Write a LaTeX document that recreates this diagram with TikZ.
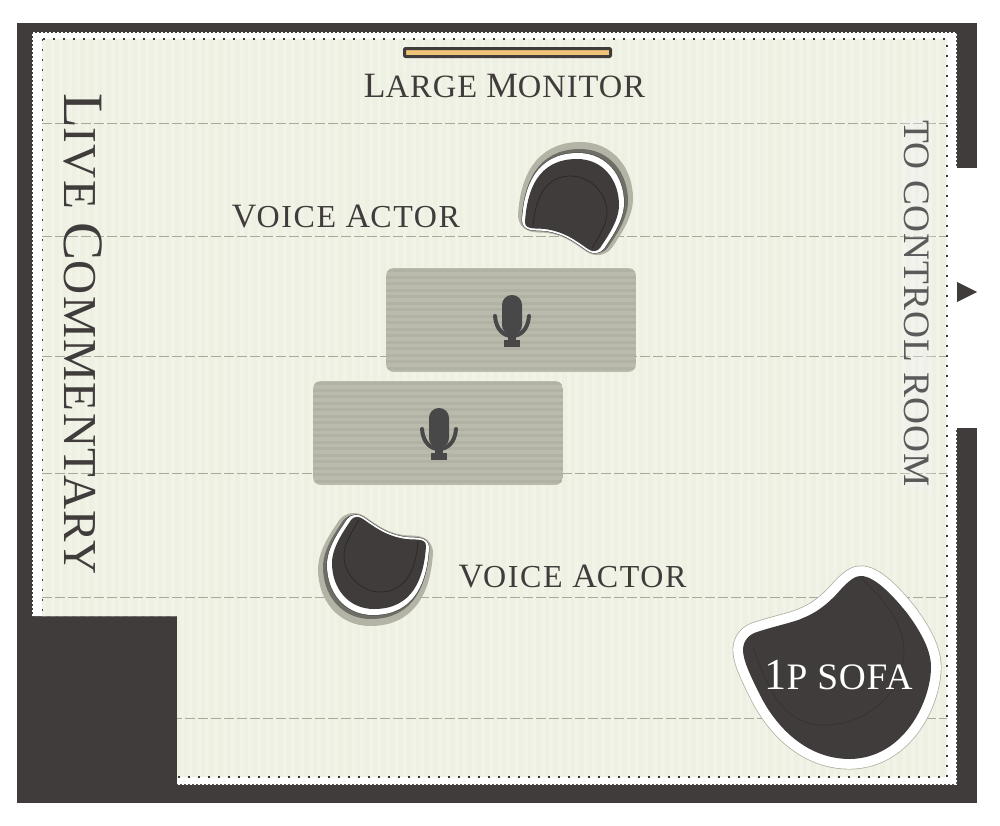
\documentclass[tikz,border=0pt]{standalone}
\usepackage{fontspec}
\usepackage{graphicx}
\setmainfont{Liberation Serif}
\usetikzlibrary{calc}
\definecolor{wall}{HTML}{403C3B}
\definecolor{cream}{HTML}{EEF0E1}
\definecolor{creamlt}{HTML}{F2F3E8}
\definecolor{gridline}{HTML}{A9A99B}
\definecolor{desk}{HTML}{BBBBAD}
\definecolor{deskdk}{HTML}{B2B2A4}
\definecolor{micdk}{HTML}{484848}
\definecolor{inkc}{HTML}{403C3B}
\definecolor{seam}{HTML}{2C2727}
\definecolor{sofaseamc}{HTML}{353131}
\definecolor{shadowlt}{HTML}{B4B4A6}
\definecolor{shadowdk}{HTML}{6E6E66}
\definecolor{screenc}{HTML}{F0C478}
\tikzset{
  gridrule/.style={gridline,line width=.8pt,dash pattern=on 10pt off 3pt},
  stitch/.style={wall,line width=1.6pt,dash pattern=on 2pt off 8pt},
  perf/.style={white,line width=1.2pt,dash pattern=on 2pt off 2pt},
  label/.style={inner sep=0pt,text=inkc},
  chairshape/.style={line join=round,insert path={
    (525,222) .. controls (527,190) and (538,159) .. (577,159)
    .. controls (603,159) and (619,180) .. (619,205)
    .. controls (619,222) and (605,240) .. (600,248)
    .. controls (597,252) and (592,252) .. (588,249)
    .. controls (575,240) and (565,232) .. (545,229)
    .. controls (535,228) and (525,230) .. (525,222) -- cycle}},
  sofashape/.style={line join=round,insert path={
    (863,576) .. controls (875,578) and (890,592) .. (907,613)
    .. controls (918,628) and (931,648) .. (931,667)
    .. controls (931,700) and (905,758) .. (850,759)
    .. controls (805,759) and (775,725) .. (760,695)
    .. controls (750,675) and (743,660) .. (743,650)
    .. controls (743,640) and (750,634) .. (757,632)
    .. controls (775,626) and (795,622) .. (803,618)
    .. controls (823,610) and (835,596) .. (843,587)
    .. controls (850,580) and (856,575) .. (863,576) -- cycle}},
}
\newcommand{\TJ}[5]{{\fontsize{#1}{#1}\selectfont\addfontfeature{LetterSpace=#5}#3\fontsize{#2}{#2}\selectfont\addfontfeature{LetterSpace=#5}#4}}
\newcommand{\drawchair}{%
  \draw[line width=21pt,color=shadowlt,fill=shadowlt,xshift=3.5pt,yshift=6.5pt,chairshape];
  \draw[line width=12pt,color=shadowdk,fill=shadowdk,xshift=3pt,yshift=4pt,chairshape];
  \draw[line width=9pt,color=black!75,fill=white,xshift=1pt,yshift=2pt,chairshape];
  \draw[line width=8pt,color=white,fill=wall,xshift=1pt,yshift=2pt,chairshape];
  \fill[wall,chairshape];
  \draw[seam,line width=.7pt] (533,227) .. controls (535,195) and (548,176) .. (570,176) .. controls (592,176) and (607,195) .. (607,212) .. controls (607,225) and (598,238) .. (592,248);
}
\newcommand{\drawdesk}[2]{%
  \begin{scope}[shift={(#1,#2)}]
    \begin{scope}
      \clip[rounded corners=8pt] (0,0) rectangle (250,104);
      \fill[desk] (0,0) rectangle (250,104);
      \foreach \yy in {1,7.5,...,104} {\fill[deskdk] (0,\yy) rectangle (250,\yy+3);}
    \end{scope}
    \fill[micdk,rounded corners=9.9pt] (116,27) rectangle (136,67);
    \draw[micdk,line width=4pt,line cap=round] (109,48) .. controls (110,62) and (118,68) .. (126,68) .. controls (134,68) and (142,62) .. (143,48);
    \fill[micdk] (122,66) rectangle (130,74);
    \fill[micdk] (118,72) rectangle (134,79);
  \end{scope}
}
\begin{document}
\begin{tikzpicture}[x=1pt,y=-1pt]
\useasboundingbox (0,0) rectangle (1000,825);
\fill[white] (0,0) rectangle (1000,825);
% walls
\fill[wall] (17,23) rectangle (977,803);
\fill[white] (33,33) -- (956,33) -- (956,784) -- (177,784) -- (177,616) -- (33,616) -- cycle;
\fill[white] (950,168) rectangle (980,428);
\draw[perf] (33,33) -- (956,33) -- (956,168);
\draw[perf] (956,428) -- (956,784) -- (177,784);
\draw[perf] (33,616) -- (33,33);
% floor
\begin{scope}
  \clip (42,39) -- (947,39) -- (947,777) -- (177,777) -- (177,616) -- (42,616) -- cycle;
  \fill[cream] (42,39) rectangle (947,777);
  \foreach \xx in {42,50.6,...,947} {\fill[creamlt] (\xx,39) rectangle (\xx+4,777);}
  \foreach \yy in {123,236,356,473,597,718} {\draw[gridrule] (42,\yy) -- (947,\yy);}
\end{scope}
\draw[stitch] (42.5,39) -- (947,39) -- (947,777) -- (177,777);
\draw[stitch] (42.5,39) -- (42.5,616);
% monitor
\node[draw=wall,fill=screenc,line width=3pt,rounded corners=1pt,minimum width=206pt,minimum height=8pt,inner sep=0pt] (monitor) at (507.5,52.5) {};
\node[label] (monitorlabel) at (504.5,86.5) {\resizebox{281pt}{!}{\TJ{35}{32}{L}{ARGE }{3}\TJ{35}{32}{M}{ONITOR}{3}}};
% desks
\drawdesk{386}{268}
\drawdesk{313}{381}
% chairs
\begin{scope}\drawchair\end{scope}
\begin{scope}[rotate around={180:(475.5,384)}]\drawchair\end{scope}
% sofa
\draw[line width=21pt,color=gridline,fill=white,sofashape];
\draw[line width=19.6pt,color=white,fill=wall,sofashape];
\fill[wall,sofashape];
\draw[sofaseamc,line width=.6pt] (860,577) .. controls (885,600) and (904,625) .. (904,650) .. controls (904,695) and (865,725) .. (825,725) .. controls (785,725) and (770,695) .. (753,647);
% labels
\node[label] (actora) at (346,216) {\resizebox{228pt}{!}{\TJ{33}{31}{V}{OICE }{5}\TJ{33}{31}{A}{CTOR}{5}}};
\node[label] (actorb) at (572.5,576) {\resizebox{228pt}{!}{\TJ{33}{31}{V}{OICE }{5}\TJ{33}{31}{A}{CTOR}{5}}};
\node[label,text=white] (sofa) at (838.5,675) {\resizebox{148pt}{!}{\TJ{45}{38}{1}{P SOFA}{2}}};
\node[label,rotate=-90] (live) at (83,334) {\resizebox{482pt}{!}{\TJ{58}{48}{L}{IVE }{3}\TJ{58}{48}{C}{OMMENTARY}{3}}};
\foreach \d in {0,2,...,10} {\fill[white,opacity=.06] (896+\d,112+\d) rectangle (939-\d,495-\d);}
\node[label,rotate=-90,text=micdk!90!white] (toctrl) at (917,303.5) {\resizebox{367pt}{!}{\TJ{36}{36}{T}{O }{3}\TJ{36}{36}{C}{ONTROL }{3}\TJ{36}{36}{R}{OOM}{3}}};
% door arrow
\fill[wall] (957,282) -- (977,292) -- (957,302) -- cycle;
\end{tikzpicture}
\end{document}
